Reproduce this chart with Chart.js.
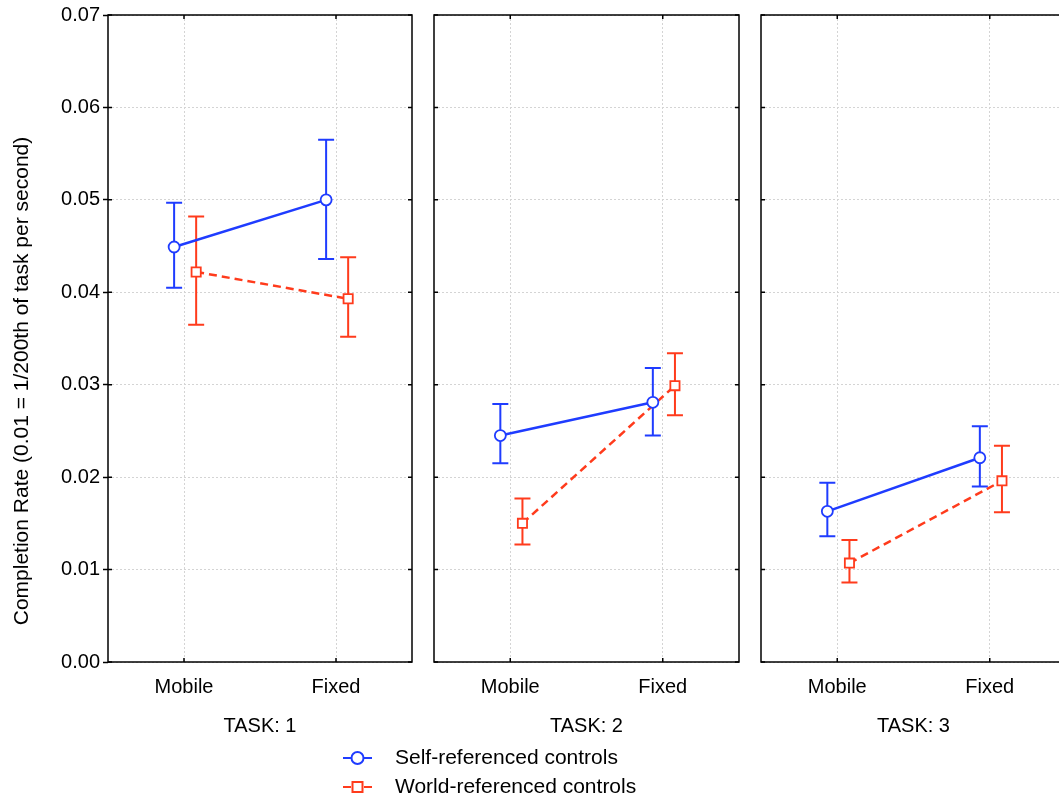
<!DOCTYPE html>
<html>
<head>
<meta charset="utf-8">
<script src="https://cdn.jsdelivr.net/npm/chart.js@4/dist/chart.umd.min.js"></script>
<style>
  body { margin: 0; background: #fff; }
  #wrap { position: relative; width: 1059px; height: 800px; overflow: hidden; }
  #wrap canvas { position: absolute; top: 0; left: 0; }
</style>
</head>
<body>
<div id="wrap">
  <canvas id="panel0" width="1080" height="800"></canvas>
  <canvas id="panel1" width="1080" height="800"></canvas>
  <canvas id="panel2" width="1080" height="800"></canvas>
</div>
<script>
// Completion rate by task and control frame, means with error bars.
const CATEGORIES = ['Mobile', 'Fixed'];
const TASKS = ['TASK: 1', 'TASK: 2', 'TASK: 3'];
const SERIES_NAMES = ['Self-referenced controls', 'World-referenced controls'];
const Y_MIN = 0;
const Y_MAX = 0.07;
const Y_STEP = 0.01;

// one row per task, one value per category
const SELF_MEAN = [[0.0449, 0.0500], [0.0245, 0.0281], [0.0163, 0.0221]];
const SELF_LO = [[0.0405, 0.0436], [0.0215, 0.0245], [0.0136, 0.0190]];
const SELF_HI = [[0.0497, 0.0565], [0.0279, 0.0318], [0.0194, 0.0255]];
const WORLD_MEAN = [[0.0422, 0.0393], [0.0150, 0.0299], [0.0107, 0.0196]];
const WORLD_LO = [[0.0365, 0.0352], [0.0127, 0.0267], [0.0086, 0.0162]];
const WORLD_HI = [[0.0482, 0.0438], [0.0177, 0.0334], [0.0132, 0.0234]];

// small horizontal shift so the two series do not overlap
const SELF_SHIFT = -0.13;
const WORLD_SHIFT = 0.16;

const BLUE = '#1f3cff';
const RED = '#ff3b1c';
const FONT = "'Liberation Sans', Arial, sans-serif";
const CANVAS_W = 1080;
const CANVAS_H = 800;
const PLOT_TOP = 15;
const PLOT_BOTTOM = 662;
const PANELS = [
    { left: 108, right: 412 },
    { left: 434, right: 739 },
    { left: 761, right: 1066 },
];

function points(mean, shift) {
    return CATEGORIES.map((c, j) => ({ x: 2 * j + 1 + shift, y: mean[j] }));
}

// vertical error bars with caps, drawn under the markers
const errorBars = {
    id: 'errorBars',
    beforeDatasetsDraw(chart) {
        const ctx = chart.ctx;
        const y = chart.scales.y;
        chart.data.datasets.forEach((ds, i) => {
            const meta = chart.getDatasetMeta(i);
            ctx.save();
            ctx.strokeStyle = ds.borderColor;
            ctx.lineWidth = 2;
            meta.data.forEach((pt, j) => {
                const top = y.getPixelForValue(ds.errHi[j]);
                const bot = y.getPixelForValue(ds.errLo[j]);
                ctx.beginPath();
                ctx.moveTo(pt.x, top);
                ctx.lineTo(pt.x, bot);
                ctx.moveTo(pt.x - 8, top);
                ctx.lineTo(pt.x + 8, top);
                ctx.moveTo(pt.x - 8, bot);
                ctx.lineTo(pt.x + 8, bot);
                ctx.stroke();
            });
            ctx.restore();
        });
    },
};

// black box round the plot area with short inward ticks
const frame = {
    id: 'frame',
    afterDraw(chart) {
        const { ctx, chartArea: a } = chart;
        const { x, y } = chart.scales;
        ctx.save();
        ctx.strokeStyle = '#000';
        ctx.lineWidth = 1.5;
        ctx.strokeRect(a.left, a.top, a.right - a.left, a.bottom - a.top);
        ctx.beginPath();
        y.ticks.forEach(t => {
            const py = y.getPixelForValue(t.value);
            ctx.moveTo(a.left, py);
            ctx.lineTo(a.left + 4, py);
            ctx.moveTo(a.right, py);
            ctx.lineTo(a.right - 4, py);
        });
        x.ticks.forEach(t => {
            const px = x.getPixelForValue(t.value);
            ctx.moveTo(px, a.top);
            ctx.lineTo(px, a.top + 4);
            ctx.moveTo(px, a.bottom);
            ctx.lineTo(px, a.bottom - 4);
        });
        ctx.stroke();
        ctx.restore();
    },
};

const yTitle = {
    id: 'yTitle',
    afterDraw(chart) {
        const ctx = chart.ctx;
        ctx.save();
        ctx.translate(22, 381);
        ctx.rotate(-Math.PI / 2);
        ctx.font = '21px ' + FONT;
        ctx.fillStyle = '#000';
        ctx.textAlign = 'center';
        ctx.textBaseline = 'middle';
        ctx.fillText('Completion Rate (0.01 = 1/200th of task per second)', 0, 0);
        ctx.restore();
    },
};

// legend below the middle panel
const legendBox = {
    id: 'legendBox',
    afterDraw(chart) {
        const ctx = chart.ctx;
        const rows = [758, 787];
        chart.data.datasets.forEach((ds, i) => {
            const cy = rows[i];
            ctx.save();
            ctx.strokeStyle = ds.borderColor;
            ctx.lineWidth = 2;
            ctx.setLineDash(i === 0 ? [] : [8, 13]);
            ctx.beginPath();
            ctx.moveTo(343, cy);
            ctx.lineTo(372, cy);
            ctx.stroke();
            ctx.setLineDash([]);
            ctx.fillStyle = '#fff';
            ctx.lineWidth = 2;
            ctx.beginPath();
            if (ds.pointStyle === 'circle') {
                ctx.arc(357.5, cy, 6, 0, Math.PI * 2);
            } else {
                ctx.rect(352.5, cy - 5, 10, 10);
            }
            ctx.fill();
            ctx.stroke();
            ctx.font = '21px ' + FONT;
            ctx.fillStyle = '#000';
            ctx.textBaseline = 'middle';
            ctx.fillText(ds.label, 395, cy);
            ctx.restore();
        });
    },
};

function makePanel(k) {
    const p = PANELS[k];
    const first = k === 0;
    const extra = [];
    if (first) extra.push(yTitle);
    if (k === 1) extra.push(legendBox);

    return new Chart(document.getElementById('panel' + k), {
        type: 'line',
        data: {
            datasets: [
                {
                    label: SERIES_NAMES[0],
                    data: points(SELF_MEAN[k], SELF_SHIFT),
                    errLo: SELF_LO[k],
                    errHi: SELF_HI[k],
                    borderColor: BLUE,
                    borderWidth: 2.5,
                    pointStyle: 'circle',
                    pointRadius: 5.5,
                    pointBorderWidth: 1.8,
                    pointBackgroundColor: '#fff',
                    tension: 0,
                },
                {
                    label: SERIES_NAMES[1],
                    data: points(WORLD_MEAN[k], WORLD_SHIFT),
                    errLo: WORLD_LO[k],
                    errHi: WORLD_HI[k],
                    borderColor: RED,
                    borderWidth: 2.5,
                    borderDash: [8, 5],
                    pointStyle: 'rect',
                    pointRadius: 6.5,
                    pointBorderWidth: 1.8,
                    pointBackgroundColor: '#fff',
                    tension: 0,
                },
            ],
        },
        options: {
            responsive: false,
            animation: false,
            layout: {
                padding: { left: 0, top: PLOT_TOP, right: CANVAS_W - p.right, bottom: 0 },
            },
            plugins: {
                legend: { display: false },
                tooltip: { enabled: false },
            },
            scales: {
                x: {
                    type: 'linear',
                    min: 0,
                    max: 2 * CATEGORIES.length,
                    afterBuildTicks: s => {
                        s.ticks = CATEGORIES.map((c, j) => ({ value: 2 * j + 1 }));
                    },
                    afterFit: s => {
                        s.height = CANVAS_H - PLOT_BOTTOM;
                    },
                    grid: {
                        color: '#d4d4d4',
                        lineWidth: 1,
                        drawTicks: false,
                    },
                    border: { display: false, dash: [2, 2] },
                    ticks: {
                        callback: v => CATEGORIES[(v - 1) / 2],
                        padding: 13,
                        maxRotation: 0,
                        color: '#000',
                        font: { family: FONT, size: 20 },
                    },
                    title: {
                        display: true,
                        text: TASKS[k],
                        color: '#000',
                        padding: { top: 0, bottom: 62 },
                        font: { family: FONT, size: 20 },
                    },
                },
                y: {
                    min: Y_MIN,
                    max: Y_MAX,
                    afterFit: s => {
                        s.width = p.left;
                    },
                    grid: {
                        color: '#d4d4d4',
                        lineWidth: 1,
                        drawTicks: first,
                        tickLength: 5,
                        tickColor: '#000',
                        tickWidth: 1.5,
                    },
                    border: { display: false, dash: [2, 2] },
                    ticks: {
                        display: first,
                        stepSize: Y_STEP,
                        padding: 3,
                        color: '#000',
                        callback: v => v.toFixed(2),
                        font: { family: FONT, size: 20 },
                    },
                },
            },
        },
        plugins: [errorBars, frame].concat(extra),
    });
}

TASKS.forEach((t, k) => makePanel(k));
</script>
</body>
</html>
